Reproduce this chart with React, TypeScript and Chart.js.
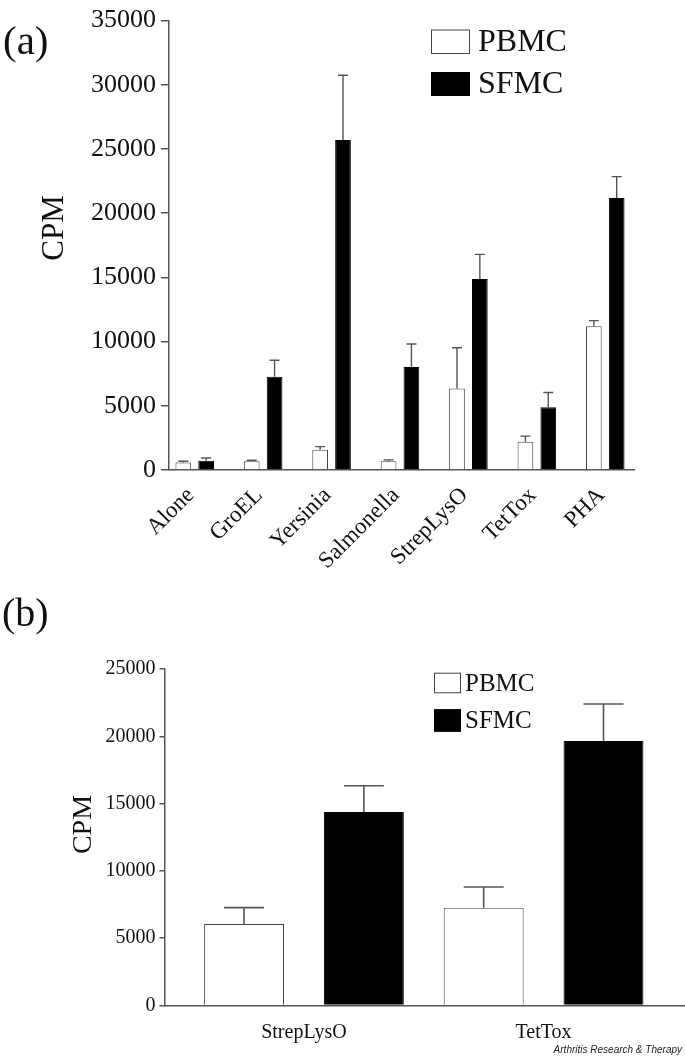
import React, { useEffect, useRef } from "react";
import { Chart, registerables } from "chart.js";

Chart.register(...registerables);

const SERIF = "'Liberation Serif', 'Times New Roman', Times, serif";
const SANS = "'Liberation Sans', Arial, Helvetica, sans-serif";

// ---------- Panel (a) ----------
const catsA = ["Alone", "GroEL", "Yersinia", "Salmonella", "StrepLysO", "TetTox", "PHA"];
const pbmcA = [580, 680, 1570, 680, 6340, 2200, 11190];
const pbmcErrA = [100, 80, 250, 110, 3180, 440, 440];
const sfmcA = [720, 7270, 25700, 8030, 14870, 4880, 21180];
const sfmcErrA = [210, 1280, 5040, 1780, 1920, 1150, 1670];
const yMaxA = 35000;
const yStepA = 5000;

// ---------- Panel (b) ----------
const catsB = ["StrepLysO", "TetTox"];
const pbmcB = [6050, 7270];
const pbmcErrB = [1220, 1530];
const sfmcB = [14380, 19650];
const sfmcErrB = [1950, 2750];
const yMaxB = 25000;
const yStepB = 5000;

const seriesNames = ["PBMC", "SFMC"];
const panelLabels = ["(a)", "(b)"];
const yTitle = "CPM";
const footer = "Arthritis Research & Therapy";

const AXIS = "#555";
const TEXT = "#111";

function makeErrorPlugin(errors: number[][], cap: number, width: number) {
  return {
    id: "errorBars",
    afterDatasetsDraw(chart: any) {
      const { ctx } = chart;
      const y = chart.scales.y;
      ctx.save();
      ctx.strokeStyle = AXIS;
      ctx.lineWidth = width;
      chart.data.datasets.forEach((ds: any, di: number) => {
        const meta = chart.getDatasetMeta(di);
        meta.data.forEach((bar: any, i: number) => {
          const v = ds.data[i].y;
          const top = y.getPixelForValue(v + errors[di][i]);
          ctx.beginPath();
          ctx.moveTo(bar.x, bar.y);
          ctx.lineTo(bar.x, top);
          ctx.moveTo(bar.x - cap / 2, top);
          ctx.lineTo(bar.x + cap / 2, top);
          ctx.stroke();
        });
      });
      ctx.restore();
    },
  };
}

type Decor = {
  panel: string;
  panelX: number;
  panelY: number;
  panelSize: number;
  titleX: number;
  titleY: number;
  titleSize: number;
  legX: number;
  legW: number;
  legBoxes: { y: number; h: number }[];
  legTextX: number;
  legSize: number;
  footer?: { x: number; y: number };
};

function makeDecorPlugin(d: Decor) {
  return {
    id: "decor",
    afterDraw(chart: any) {
      const { ctx } = chart;
      ctx.save();
      ctx.fillStyle = TEXT;
      ctx.textBaseline = "middle";
      // panel label
      ctx.textAlign = "left";
      ctx.font = `${d.panelSize}px ${SERIF}`;
      ctx.fillText(d.panel, d.panelX, d.panelY);
      // y title
      ctx.save();
      ctx.translate(d.titleX, d.titleY);
      ctx.rotate(-Math.PI / 2);
      ctx.textAlign = "center";
      ctx.font = `${d.titleSize}px ${SERIF}`;
      ctx.fillText(yTitle, 0, 0);
      ctx.restore();
      // legend
      chart.data.datasets.forEach((ds: any, i: number) => {
        const b = d.legBoxes[i];
        ctx.fillStyle = ds.backgroundColor;
        ctx.fillRect(d.legX, b.y, d.legW, b.h);
        ctx.strokeStyle = ds.borderColor;
        ctx.lineWidth = 1;
        ctx.strokeRect(d.legX + 0.5, b.y + 0.5, d.legW - 1, b.h - 1);
        ctx.fillStyle = TEXT;
        ctx.textAlign = "left";
        ctx.font = `${d.legSize}px ${SERIF}`;
        ctx.fillText(ds.label, d.legTextX, b.y + b.h / 2 + 1);
      });
      if (d.footer) {
        ctx.fillStyle = "#222";
        ctx.textAlign = "right";
        ctx.font = `italic 10px ${SANS}`;
        ctx.fillText(footer, d.footer.x, d.footer.y);
      }
      ctx.restore();
    },
  };
}

function barConfig(opts: {
  cats: string[];
  pbmc: number[];
  sfmc: number[];
  errors: number[][];
  cap: number;
  errWidth: number;
  xMin: number;
  xMax: number;
  yMax: number;
  yStep: number;
  catPct: number;
  barPct: number;
  padTop: number;
  padRight: number;
  yWidth: number;
  xHeight: number;
  xFont: number;
  xPad: number;
  xLabelOffset: number;
  rotation: number;
  yFont: number;
  yPad: number;
  tickLen: number;
  decor: Decor;
}) {
  const o = opts;
  return {
    type: "bar" as const,
    data: {
      datasets: [
        {
          label: seriesNames[0],
          data: o.pbmc.map((v, i) => ({ x: i, y: v })),
          backgroundColor: "#ffffff",
          borderColor: "#444",
          borderWidth: 1,
        },
        {
          label: seriesNames[1],
          data: o.sfmc.map((v, i) => ({ x: i, y: v })),
          backgroundColor: "#000000",
          borderColor: "#000000",
          borderWidth: 1,
        },
      ],
    },
    options: {
      responsive: false,
      animation: false as const,
      devicePixelRatio: 1,
      layout: { padding: { top: o.padTop, right: o.padRight, left: 0, bottom: 0 } },
      datasets: { bar: { categoryPercentage: o.catPct, barPercentage: o.barPct } },
      plugins: { legend: { display: false }, tooltip: { enabled: false } },
      scales: {
        x: {
          type: "linear" as const,
          min: o.xMin,
          max: o.xMax,
          offset: false,
          grid: { display: false, drawTicks: false },
          border: { display: true, color: AXIS, width: 1.5 },
          afterBuildTicks: (s: any) => {
            s.ticks = o.cats.map((_, i) => ({ value: i }));
          },
          afterFit: (s: any) => {
            s.height = o.xHeight;
          },
          ticks: {
            autoSkip: false,
            minRotation: o.rotation,
            maxRotation: o.rotation,
            padding: o.xPad,
            labelOffset: o.xLabelOffset,
            color: TEXT,
            font: { family: SERIF, size: o.xFont },
            callback: (v: any) => o.cats[v] ?? "",
          },
        },
        y: {
          min: 0,
          max: o.yMax,
          afterFit: (s: any) => {
            s.width = o.yWidth;
          },
          grid: {
            drawOnChartArea: false,
            drawTicks: true,
            tickLength: o.tickLen,
            color: AXIS,
            lineWidth: 1.5,
          },
          border: { display: true, color: AXIS, width: 1.5 },
          ticks: {
            stepSize: o.yStep,
            padding: o.yPad,
            color: TEXT,
            font: { family: SERIF, size: o.yFont },
            callback: (v: any) => String(v),
          },
        },
      },
    },
    plugins: [makeErrorPlugin(o.errors, o.cap, o.errWidth), makeDecorPlugin(o.decor)],
  };
}

export default function App() {
  const refA = useRef<HTMLCanvasElement>(null);
  const refB = useRef<HTMLCanvasElement>(null);

  useEffect(() => {
    const cfgA = barConfig({
      cats: catsA,
      pbmc: pbmcA,
      sfmc: sfmcA,
      errors: [pbmcErrA, sfmcErrA],
      cap: 10,
      errWidth: 1.4,
      xMin: -0.376,
      xMax: 6.42,
      yMax: yMaxA,
      yStep: yStepA,
      catPct: 0.668,
      barPct: 0.687,
      padTop: 16,
      padRight: 51,
      yWidth: 169,
      xHeight: 120,
      xFont: 23,
      xPad: 12,
      xLabelOffset: -4,
      rotation: 45,
      yFont: 26,
      yPad: 5,
      tickLen: 8,
      decor: {
        panel: panelLabels[0],
        panelX: 3,
        panelY: 43,
        panelSize: 41,
        titleX: 55,
        titleY: 228,
        titleSize: 31,
        legX: 431,
        legW: 39,
        legBoxes: [
          { y: 29.5, h: 24.5 },
          { y: 72, h: 24 },
        ],
        legTextX: 478,
        legSize: 32,
      },
    });
    const cfgB = barConfig({
      cats: catsB,
      pbmc: pbmcB,
      sfmc: sfmcB,
      errors: [pbmcErrB, sfmcErrB],
      cap: 40,
      errWidth: 1.6,
      xMin: -0.582,
      xMax: 1.586,
      yMax: yMaxB,
      yStep: yStepB,
      catPct: 1.0,
      barPct: 0.667,
      padTop: 79,
      padRight: 1,
      yWidth: 164.5,
      xHeight: 51.5,
      xFont: 20,
      xPad: 15,
      xLabelOffset: 0,
      rotation: 0,
      yFont: 20,
      yPad: 4,
      tickLen: 5,
      decor: {
        panel: panelLabels[1],
        panelX: 2,
        panelY: 25,
        panelSize: 40,
        titleX: 84,
        titleY: 234.5,
        titleSize: 28,
        legX: 434,
        legW: 27,
        legBoxes: [
          { y: 82.7, h: 20.6 },
          { y: 119.3, h: 22.4 },
        ],
        legTextX: 465,
        legSize: 25,
        footer: { x: 682, y: 460 },
      },
    });
    const a = new Chart(refA.current!, cfgA as any);
    const b = new Chart(refB.current!, cfgB as any);
    return () => {
      a.destroy();
      b.destroy();
    };
  }, []);

  return (
    <div style={{ position: "absolute", left: 0, top: 0, width: 685, height: 1057, background: "#fff" }}>
      <canvas
        ref={refA}
        width={685}
        height={590}
        style={{ position: "absolute", left: 0, top: 0, width: 685, height: 590, display: "block" }}
      />
      <canvas
        ref={refB}
        width={685}
        height={467}
        style={{ position: "absolute", left: 0, top: 590, width: 685, height: 467, display: "block" }}
      />
    </div>
  );
}
